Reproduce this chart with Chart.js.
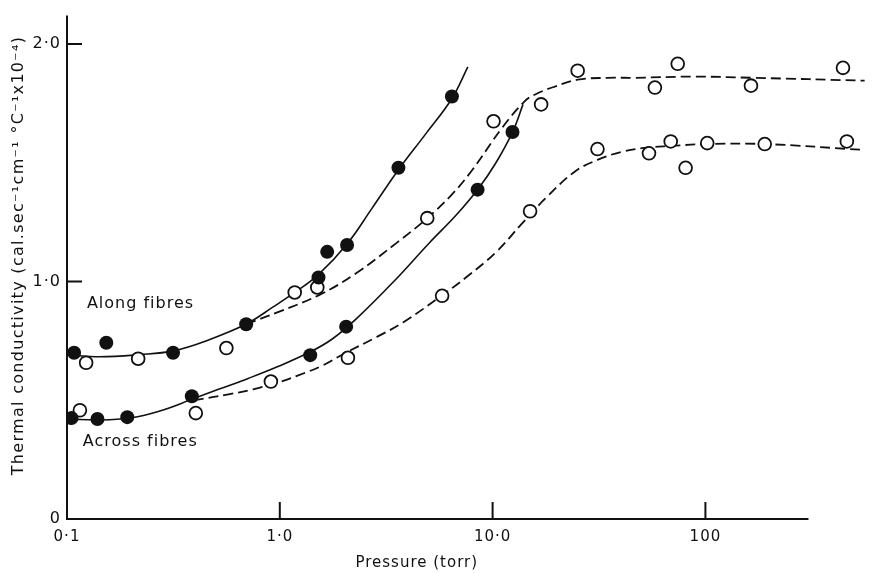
<!DOCTYPE html>
<html><head><meta charset="utf-8">
<script src="https://cdn.jsdelivr.net/npm/chart.js@4/dist/chart.umd.min.js"></script>
<style>html,body{margin:0;padding:0;background:#fff;}canvas{display:block;}</style>
</head><body>
<canvas id="c" width="873" height="573"></canvas>
<script>
// ---- tick labels / titles ----
const xTickValues = [0.1, 1, 10, 100];
const xTickLabels = ['0·1', '1·0', '10·0', '100'];
const yTickValues = [0, 1, 2];
const yTickLabels = ['0', '1·0', '2·0'];
const xTitle = 'Pressure (torr)';
const yTitle = 'Thermal conductivity (cal.sec⁻¹cm⁻¹ °C⁻¹x10⁻⁴)';
const xMin = 0.1, xMax = 561, yMin = 0, yMax = 2.12;
const xAxisEnd = 305;      // where the drawn pressure axis stops
const xTitleAt = 4.4;      // pressure value under which the x title is centred
const yTitleAt = 1.11;     // conductivity value beside which the y title is centred

// ---- annotations ----
const noteText = ['Along fibres', 'Across fibres'];
const noteP = [0.124, 0.1187];
const noteK = [0.904, 0.325];

// ---- measured points ----
const alongFilledP = [0.108, 0.153, 0.315, 0.695, 1.52, 1.67, 2.07, 3.61, 6.44];
const alongFilledK = [0.70, 0.742, 0.70, 0.82, 1.017, 1.125, 1.154, 1.479, 1.779];
const alongOpenP = [0.123, 0.216, 0.561, 1.175, 1.50, 4.93, 10.1, 16.9, 25.1, 57.9, 74.1, 163.7, 443];
const alongOpenK = [0.658, 0.675, 0.72, 0.954, 0.975, 1.267, 1.675, 1.746, 1.888, 1.817, 1.917, 1.825, 1.90];
const acrossFilledP = [0.105, 0.139, 0.192, 0.386, 1.39, 2.05, 8.5, 12.4];
const acrossFilledK = [0.425, 0.421, 0.429, 0.517, 0.69, 0.81, 1.387, 1.63];
const acrossOpenP = [0.115, 0.403, 0.908, 2.09, 5.79, 15.0, 31.1, 54.3, 68.7, 80.7, 102, 190, 462];
const acrossOpenK = [0.458, 0.446, 0.579, 0.679, 0.94, 1.296, 1.558, 1.54, 1.59, 1.479, 1.583, 1.579, 1.59];

// ---- fitted curves ----
const alongSolidP = [0.101, 0.142, 0.219, 0.315, 0.462, 0.695, 0.927, 1.175, 1.518, 2.07, 2.71, 3.61, 4.88, 6.44, 7.65];
const alongSolidK = [0.692, 0.683, 0.692, 0.708, 0.754, 0.821, 0.892, 0.954, 1.029, 1.158, 1.308, 1.471, 1.625, 1.771, 1.904];
const alongDashP = [0.695, 0.98, 1.552, 2.31, 3.54, 4.93, 6.38, 7.91, 11.14, 14.1, 15.85, 19.6, 25.1, 34.7, 46.3, 87.9, 167, 561];
const alongDashK = [0.821, 0.871, 0.946, 1.038, 1.163, 1.267, 1.363, 1.4625, 1.65, 1.758, 1.788, 1.821, 1.85, 1.858, 1.858, 1.863, 1.858, 1.846];
const acrossSolidP = [0.101, 0.142, 0.196, 0.271, 0.386, 0.515, 0.71, 0.98, 1.393, 1.764, 2.306, 3.43, 5.04, 6.73, 8.51, 10.3, 12.4, 13.9];
const acrossSolidK = [0.421, 0.417, 0.425, 0.454, 0.504, 0.546, 0.592, 0.642, 0.704, 0.758, 0.846, 1.0, 1.1625, 1.279, 1.3875, 1.496, 1.629, 1.746];
const acrossDashP = [0.394, 0.573, 0.748, 0.98, 1.213, 1.585, 2.0, 2.86, 3.81, 5.79, 7.49, 10.3, 13.8, 17.7, 24.3, 31.1, 40.3, 51.5, 68.7, 102, 190, 561];
const acrossDashK = [0.5, 0.525, 0.546, 0.575, 0.604, 0.646, 0.696, 0.767, 0.829, 0.942, 1.017, 1.121, 1.246, 1.35, 1.4625, 1.5125, 1.546, 1.5625, 1.571, 1.579, 1.579, 1.554];

const zip = (P, K) => P.map((p, i) => ({x: p, y: K[i]}));
const INK = '#111';
const FONT = '"DejaVu Sans", sans-serif';

function curve(P, K, dashed) {
  return {
    type: 'scatter', data: zip(P, K), showLine: true, pointRadius: 0,
    borderColor: INK, borderWidth: dashed ? 1.8 : 1.6, borderDash: dashed ? [10, 5] : [],
    tension: 0.4, fill: false, order: 2
  };
}
function marks(P, K, filled) {
  return {
    type: 'scatter', data: zip(P, K), showLine: false,
    pointRadius: filled ? 7 : 6.4, pointHoverRadius: filled ? 7 : 6.4,
    pointBackgroundColor: filled ? INK : '#fff', pointBorderColor: INK,
    pointBorderWidth: filled ? 0 : 1.8, order: filled ? 0 : 1
  };
}

const axesPlugin = {
  id: 'axesPlugin',
  beforeDraw(chart) { chart.ctx.letterSpacing = '1px'; },
  afterDraw(chart) {
    const {ctx, scales: {x, y}} = chart;
    const x0 = x.getPixelForValue(xMin), y0 = y.getPixelForValue(0);
    ctx.save();
    ctx.strokeStyle = INK; ctx.lineWidth = 2; ctx.setLineDash([]);
    ctx.beginPath();
    ctx.moveTo(x0, chart.chartArea.top); ctx.lineTo(x0, y0);
    ctx.lineTo(x.getPixelForValue(xAxisEnd), y0);
    // inward ticks
    yTickValues.forEach(v => { if (v > 0) { const py = y.getPixelForValue(v); ctx.moveTo(x0, py); ctx.lineTo(x0 + 15, py); } });
    xTickValues.forEach(v => { if (v > xMin) { const px = x.getPixelForValue(v); ctx.moveTo(px, y0); ctx.lineTo(px, y0 - 17); } });
    ctx.stroke();
    ctx.fillStyle = INK; ctx.letterSpacing = '1px';
    ctx.font = '16px ' + FONT; ctx.textAlign = 'left'; ctx.textBaseline = 'middle';
    noteText.forEach((t, i) => ctx.fillText(t, x.getPixelForValue(noteP[i]), y.getPixelForValue(noteK[i])));
    ctx.font = '15px ' + FONT; ctx.textAlign = 'center';
    ctx.fillText(xTitle, x.getPixelForValue(xTitleAt), y0 + 44);
    // y axis title
    ctx.save();
    ctx.translate(19, y.getPixelForValue(yTitleAt));
    ctx.rotate(-Math.PI / 2);
    ctx.letterSpacing = '1.3px';
    ctx.font = '16px ' + FONT; ctx.textAlign = 'center'; ctx.textBaseline = 'middle';
    ctx.fillText(yTitle, 0, 0);
    ctx.restore();
    ctx.restore();
  }
};

new Chart(document.getElementById('c'), {
  type: 'scatter',
  data: {
    datasets: [
      marks(alongFilledP, alongFilledK, true),
      marks(acrossFilledP, acrossFilledK, true),
      marks(alongOpenP, alongOpenK, false),
      marks(acrossOpenP, acrossOpenK, false),
      curve(alongSolidP, alongSolidK, false),
      curve(alongDashP, alongDashK, true),
      curve(acrossSolidP, acrossSolidK, false),
      curve(acrossDashP, acrossDashK, true)
    ]
  },
  options: {
    responsive: false, animation: false, devicePixelRatio: 1,
    layout: {padding: {top: 10, right: 0, bottom: 0, left: 0}},
    plugins: {legend: {display: false}, tooltip: {enabled: false}},
    events: [],
    scales: {
      x: {
        type: 'logarithmic', min: xMin, max: xMax,
        grid: {display: false, drawTicks: false}, border: {display: false},
        afterBuildTicks: s => { s.ticks = xTickValues.map(v => ({value: v})); },
        afterFit: s => { s.height = 54; },
        ticks: {padding: 9, autoSkip: false, maxRotation: 0, color: INK,
          font: {family: FONT, size: 15}, callback: (v, i) => xTickLabels[i]}
      },
      y: {
        type: 'linear', min: yMin, max: yMax,
        grid: {display: false, drawTicks: false}, border: {display: false},
        afterBuildTicks: s => { s.ticks = yTickValues.map(v => ({value: v})); },
        afterFit: s => { s.width = 67; },
        ticks: {padding: 6, color: INK, font: {family: FONT, size: 16}, callback: (v, i) => yTickLabels[i]}
      }
    }
  },
  plugins: [axesPlugin]
});
</script>
</body></html>
